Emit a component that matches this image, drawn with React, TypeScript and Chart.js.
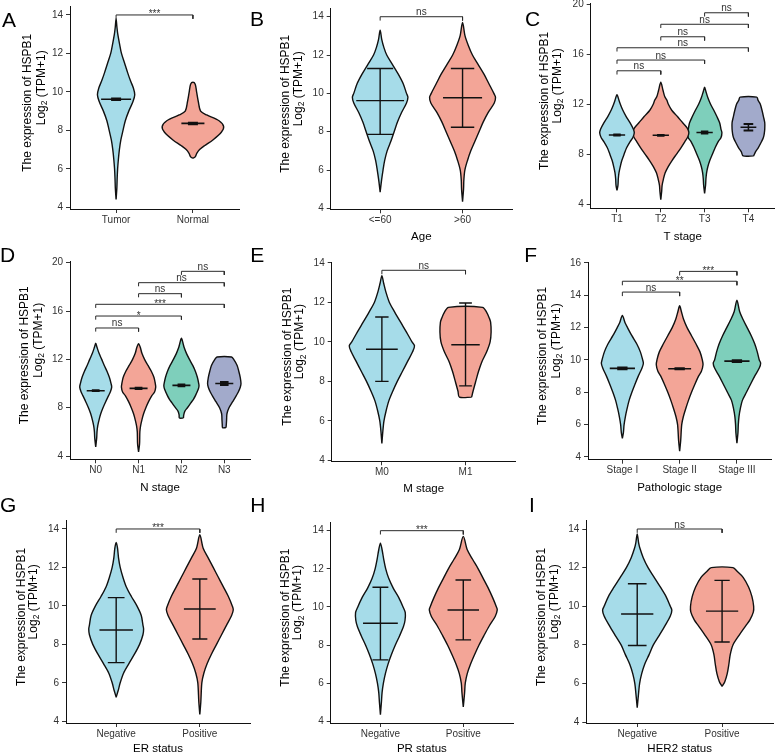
import React, { useEffect, useRef } from 'react';
import { Chart, registerables } from 'chart.js';

Chart.register(...registerables);

type Prof = [number, number][];
type Bracket = [number, number, number, string];

const FONT = "'Liberation Sans', Arial, Helvetica, sans-serif";
const BLUE = '#A6DCE9';
const SALMON = '#F3A597';
const TEAL = '#7ECFBB';
const SLATE = '#A2AACB';

// ================= DATA =================
// A: Tumor vs Normal
const catsA = ['Tumor', 'Normal'];
const ticksA = [4, 6, 8, 10, 12, 14];
const violinA1: Prof = [[4.4,0],[5,0.01],[5.5,0.014],[6,0.02],[6.5,0.03],[7,0.043],[7.5,0.062],[8,0.09],[8.5,0.12],[9,0.165],[9.5,0.22],[9.85,0.243],[10.2,0.225],[10.6,0.185],[11,0.15],[11.5,0.11],[12,0.07],[12.5,0.045],[13,0.022],[13.4,0.01],[13.8,0]];
const violinA2: Prof = [[6.55,0],[6.62,0.03],[6.8,0.05],[7.0,0.087],[7.2,0.15],[7.5,0.26],[7.9,0.37],[8.2,0.4],[8.5,0.34],[8.8,0.18],[9.0,0.1],[9.5,0.07],[10.0,0.048],[10.4,0.03],[10.5,0]];
const meanA = [9.62, 8.36];
const lowA = [9.58, 8.32];
const highA = [9.66, 8.4];
const bracketsA: Bracket[] = [[1, 2, 14.0, '***']];

// B: Age
const catsB = ['<=60', '>60'];
const ticksB = [4, 6, 8, 10, 12, 14];
const violinB1: Prof = [[4.85,0],[5.5,0.018],[6,0.035],[6.5,0.055],[7,0.085],[7.5,0.13],[8,0.17],[8.5,0.21],[9,0.26],[9.5,0.32],[9.8,0.337],[10,0.32],[10.5,0.28],[11,0.22],[11.5,0.15],[12,0.08],[12.4,0.045],[12.8,0.02],[13.3,0]];
const violinB2: Prof = [[4.35,0],[5,0.012],[5.5,0.016],[6,0.028],[6.5,0.06],[7,0.1],[7.5,0.15],[8,0.2],[8.5,0.25],[9,0.31],[9.5,0.385],[9.8,0.4],[10,0.38],[10.5,0.32],[11,0.26],[11.5,0.19],[12,0.12],[12.5,0.07],[13,0.03],[13.7,0]];
const meanB = [9.62, 9.77];
const lowB = [7.86, 8.23];
const highB = [11.3, 11.3];
const bracketsB: Bracket[] = [[1, 2, 14.0, 'ns']];

// C: T stage
const catsC = ['T1', 'T2', 'T3', 'T4'];
const ticksC = [4, 8, 12, 16, 20];
const violinC1: Prof = [[5.1,0],[5.5,0.022],[6,0.03],[6.5,0.045],[7,0.075],[7.5,0.112],[8,0.164],[8.5,0.22],[9,0.3],[9.3,0.36],[9.7,0.395],[10,0.373],[10.5,0.3],[11,0.21],[11.5,0.134],[12,0.075],[12.3,0.045],[12.75,0]];
const violinC2: Prof = [[4.35,0],[5,0.02],[5.5,0.03],[6,0.06],[6.5,0.1],[7,0.17],[7.5,0.26],[8,0.36],[8.5,0.46],[9,0.55],[9.4,0.62],[9.75,0.64],[10.1,0.6],[10.5,0.5],[11,0.38],[11.5,0.25],[12,0.17],[12.3,0.14],[12.6,0.09],[13.1,0.05],[13.75,0]];
const violinC3: Prof = [[4.85,0],[5.5,0.022],[6,0.03],[6.5,0.045],[7,0.075],[7.5,0.12],[8,0.18],[8.5,0.24],[9,0.31],[9.3,0.373],[9.7,0.395],[10,0.373],[10.5,0.343],[11,0.28],[11.5,0.21],[12,0.134],[12.5,0.075],[13,0.03],[13.35,0]];
const violinC4: Prof = [[7.85,0.12],[8.2,0.164],[8.5,0.224],[9,0.3],[9.3,0.34],[9.6,0.36],[10,0.373],[10.5,0.373],[11,0.343],[11.5,0.31],[12,0.27],[12.3,0.22],[12.55,0.19]];
const meanC = [9.52, 9.5, 9.72, 10.14];
const lowC = [9.48, 9.47, 9.64, 9.88];
const highC = [9.56, 9.53, 9.8, 10.4];
const bracketsC: Bracket[] = [[1,2,14.66,'ns'],[1,3,15.52,'ns'],[1,4,16.5,'ns'],[2,3,17.38,'ns'],[2,4,18.38,'ns'],[3,4,19.3,'ns']];

// D: N stage
const catsD = ['N0', 'N1', 'N2', 'N3'];
const ticksD = [4, 8, 12, 16, 20];
const violinD1: Prof = [[4.75,0],[5.5,0.023],[6,0.03],[6.5,0.047],[7,0.078],[7.5,0.117],[8,0.17],[8.5,0.233],[9,0.3],[9.3,0.34],[9.7,0.373],[10,0.358],[10.5,0.32],[11,0.265],[11.5,0.2],[12,0.14],[12.5,0.078],[13,0.03],[13.35,0]];
const violinD2: Prof = [[4.35,0],[5,0.023],[6,0.03],[6.5,0.047],[7,0.078],[7.5,0.117],[8,0.17],[8.5,0.233],[9,0.31],[9.3,0.373],[9.7,0.4],[10,0.39],[10.5,0.36],[11,0.3],[11.5,0.22],[12,0.14],[12.5,0.078],[13,0.04],[13.3,0]];
const violinD3: Prof = [[7.15,0.047],[7.4,0.054],[7.7,0.078],[8,0.14],[8.4,0.22],[8.7,0.28],[9,0.327],[9.5,0.39],[9.8,0.41],[10,0.404],[10.5,0.373],[11,0.327],[11.5,0.264],[12,0.187],[12.5,0.117],[13,0.062],[13.3,0.04],[13.75,0]];
const violinD4: Prof = [[6.35,0.04],[6.6,0.047],[7,0.054],[7.5,0.062],[8,0.11],[8.5,0.195],[9,0.28],[9.3,0.327],[9.7,0.373],[10,0.39],[10.5,0.373],[11,0.34],[11.5,0.3],[12,0.22],[12.2,0.17]];
const meanD = [9.41, 9.6, 9.85, 10.0];
const lowD = [9.38, 9.55, 9.77, 9.88];
const highD = [9.44, 9.65, 9.93, 10.12];
const bracketsD: Bracket[] = [[1,2,14.6,'ns'],[1,3,15.59,'*'],[1,4,16.56,'***'],[2,3,17.44,'ns'],[2,4,18.35,'ns'],[3,4,19.29,'ns']];

// E: M stage
const catsE = ['M0', 'M1'];
const ticksE = [4, 6, 8, 10, 12, 14];
const violinE1: Prof = [[4.85,0],[5.5,0.012],[6,0.025],[6.5,0.05],[7,0.082],[7.5,0.13],[8,0.184],[8.5,0.245],[9,0.306],[9.5,0.367],[9.8,0.39],[10,0.36],[10.5,0.294],[11,0.224],[11.5,0.155],[12,0.09],[12.5,0.05],[13,0.02],[13.35,0]];
const violinE2: Prof = [[7.2,0.073],[7.5,0.09],[8,0.122],[8.5,0.155],[9,0.196],[9.5,0.253],[10,0.294],[10.5,0.306],[11,0.3],[11.2,0.285],[11.5,0.253],[11.75,0.204]];
const meanE = [9.63, 9.86];
const lowE = [8.0, 7.77];
const highE = [11.26, 11.97];
const bracketsE: Bracket[] = [[1, 2, 13.63, 'ns']];

// F: Pathologic stage
const catsF = ['Stage I', 'Stage II', 'Stage III'];
const ticksF = [4, 6, 8, 10, 12, 14, 16];
const violinF1: Prof = [[5.15,0],[5.5,0.018],[6,0.03],[6.5,0.053],[7,0.083],[7.5,0.118],[8,0.166],[8.5,0.22],[9,0.278],[9.5,0.343],[9.8,0.367],[10,0.355],[10.5,0.314],[11,0.25],[11.5,0.166],[12,0.09],[12.3,0.047],[12.75,0]];
const violinF2: Prof = [[4.35,0],[5,0.018],[6,0.036],[6.5,0.065],[7,0.107],[7.5,0.154],[8,0.207],[8.5,0.266],[9,0.33],[9.3,0.38],[9.7,0.408],[10,0.396],[10.5,0.355],[11,0.284],[11.5,0.207],[12,0.13],[12.5,0.07],[13,0.03],[13.35,0]];
const violinF3: Prof = [[4.85,0],[5.5,0.018],[6,0.024],[6.5,0.036],[7,0.06],[7.5,0.095],[8,0.166],[8.5,0.237],[9,0.31],[9.5,0.39],[9.8,0.414],[10,0.39],[10.5,0.355],[11,0.31],[11.5,0.25],[12,0.178],[12.5,0.107],[13,0.047],[13.7,0]];
const meanF = [9.48, 9.46, 9.93];
const lowF = [9.42, 9.43, 9.88];
const highF = [9.54, 9.49, 9.98];
const bracketsF: Bracket[] = [[1,2,14.2,'ns'],[1,3,14.87,'**'],[2,3,15.48,'***']];

// G: ER status
const catsG = ['Negative', 'Positive'];
const ticksG = [4, 6, 8, 10, 12, 14];
const violinG1: Prof = [[5.25,0],[5.6,0.024],[6,0.048],[6.5,0.088],[7,0.152],[7.5,0.22],[8,0.28],[8.5,0.32],[8.8,0.328],[9,0.32],[9.5,0.3],[10,0.248],[10.5,0.18],[11,0.12],[11.5,0.08],[12,0.048],[12.5,0.028],[13,0.016],[13.3,0]];
const violinG2: Prof = [[4.35,0],[5,0.012],[6,0.024],[6.5,0.048],[7,0.088],[7.5,0.14],[8,0.2],[8.5,0.26],[9,0.32],[9.5,0.38],[9.8,0.4],[10,0.388],[10.5,0.34],[11,0.28],[11.5,0.22],[12,0.16],[12.5,0.1],[13,0.04],[13.7,0]];
const meanG = [8.75, 9.84];
const lowG = [7.05, 8.28];
const highG = [10.43, 11.4];
const bracketsG: Bracket[] = [[1, 2, 14.0, '***']];

// H: PR status
const catsH = ['Negative', 'Positive'];
const ticksH = [4, 6, 8, 10, 12, 14];
const violinH1: Prof = [[4.35,0],[5,0.012],[5.5,0.02],[6,0.036],[6.5,0.06],[7,0.092],[7.5,0.133],[8,0.18],[8.5,0.233],[9,0.28],[9.3,0.297],[9.7,0.3],[10,0.273],[10.5,0.22],[11,0.153],[11.5,0.1],[12,0.064],[12.5,0.04],[13,0.02],[13.35,0]];
const violinH2: Prof = [[4.75,0],[5.5,0.016],[6,0.024],[6.5,0.048],[7,0.088],[7.5,0.137],[8,0.19],[8.5,0.25],[9,0.313],[9.5,0.385],[9.85,0.41],[10,0.4],[10.5,0.353],[11,0.3],[11.5,0.24],[12,0.18],[12.5,0.112],[13,0.048],[13.7,0]];
const meanH = [9.14, 9.84];
const lowH = [7.22, 8.27];
const highH = [11.03, 11.41];
const bracketsH: Bracket[] = [[1, 2, 14.0, '***']];

// I: HER2 status
const catsI = ['Negative', 'Positive'];
const ticksI = [4, 6, 8, 10, 12, 14];
const violinI1: Prof = [[4.75,0],[5.5,0.016],[6,0.028],[6.5,0.052],[7,0.088],[7.5,0.14],[8,0.19],[8.5,0.26],[9,0.328],[9.5,0.39],[9.8,0.408],[10,0.39],[10.5,0.34],[11,0.272],[11.5,0.2],[12,0.128],[12.5,0.072],[13,0.032],[13.3,0.016],[13.75,0]];
const violinI2: Prof = [[5.85,0],[6.1,0.032],[6.5,0.06],[7,0.08],[7.5,0.096],[8,0.128],[8.5,0.2],[9,0.28],[9.3,0.328],[9.7,0.368],[10,0.372],[10.5,0.352],[11,0.312],[11.5,0.248],[11.8,0.18],[12,0.128]];
const meanI = [9.6, 9.75];
const lowI = [7.97, 8.15];
const highI = [11.17, 11.34];
const bracketsI: Bracket[] = [[1, 2, 14.0, 'ns']];

// ================= LAYOUT / STYLE =================
interface PanelDef {
  letter: string;
  col: number; row: number;
  cats: string[]; yTicks: number[]; xTitle: string;
  violins: Prof[]; colors: string[];
  mean: number[]; low: number[]; high: number[];
  brackets: Bracket[];
  yMin: number; yMax: number;
  left: number; right: number; top: number; bottom: number; titleY: number;
  meanHalf: number[]; capHalf: number[]; capW: number; meanW: number; barW: number;
  drop: number; t1: number; t2: number;
  lx: number; ly: number;
}

const W = 259, H = 252;

const panels: PanelDef[] = [
  { letter: 'A', col: 0, row: 0, cats: catsA, yTicks: ticksA, xTitle: '', violins: [violinA1, violinA2], colors: [BLUE, SALMON],
    mean: meanA, low: lowA, high: highA, brackets: bracketsA, yMin: 3.91, yMax: 14.44,
    left: 70, right: 239, top: 6.5, bottom: 209, titleY: 237, meanHalf: [0.195, 0.15], capHalf: [0.065, 0.065], capW: 2, meanW: 1.6, barW: 2,
    drop: 0.2, t1: 42, t2: 28.5, lx: 2, ly: 9 },
  { letter: 'B', col: 1, row: 0, cats: catsB, yTicks: ticksB, xTitle: 'Age', violins: [violinB1, violinB2], colors: [BLUE, SALMON],
    mean: meanB, low: lowB, high: highB, brackets: bracketsB, yMin: 3.95, yMax: 14.44,
    left: 71.7, right: 253, top: 8.3, bottom: 209.3, titleY: 237, meanHalf: [0.29, 0.237], capHalf: [0.158, 0.142], capW: 1.4, meanW: 1.4, barW: 1.4,
    drop: 0.2, t1: 45, t2: 32.5, lx: 250, ly: 7.5 },
  { letter: 'C', col: 2, row: 0, cats: catsC, yTicks: ticksC, xTitle: 'T stage', violins: [violinC1, violinC2, violinC3, violinC4], colors: [BLUE, SALMON, TEAL, SLATE],
    mean: meanC, low: lowC, high: highC, brackets: bracketsC, yMin: 3.66, yMax: 20.05,
    left: 72.7, right: 256.7, top: 3.4, bottom: 208.3, titleY: 237.3, meanHalf: [0.186, 0.186, 0.186, 0.18], capHalf: [0.085, 0.085, 0.085, 0.11], capW: 2, meanW: 1.6, barW: 1.5,
    drop: 0.3, t1: 46.5, t2: 33.3, lx: 525, ly: 7.5 },
  { letter: 'D', col: 0, row: 1, cats: catsD, yTicks: ticksD, xTitle: 'N stage', violins: [violinD1, violinD2, violinD3, violinD4], colors: [BLUE, SALMON, TEAL, SLATE],
    mean: meanD, low: lowD, high: highD, brackets: bracketsD, yMin: 3.73, yMax: 20.12,
    left: 70, right: 250, top: 9.3, bottom: 207.3, titleY: 236, meanHalf: [0.21, 0.21, 0.21, 0.21], capHalf: [0.09, 0.09, 0.09, 0.1], capW: 2, meanW: 1.6, barW: 1.5,
    drop: 0.3, t1: 45, t2: 31.7, lx: 0, ly: 243.7 },
  { letter: 'E', col: 1, row: 1, cats: catsE, yTicks: ticksE, xTitle: 'M stage', violins: [violinE1, violinE2], colors: [BLUE, SALMON],
    mean: meanE, low: lowE, high: highE, brackets: bracketsE, yMin: 3.95, yMax: 14.05,
    left: 72.7, right: 256.7, top: 10, bottom: 209.3, titleY: 236.7, meanHalf: [0.19, 0.17], capHalf: [0.08, 0.076], capW: 1.4, meanW: 1.4, barW: 1.4,
    drop: 0.2, t1: 44.3, t2: 32, lx: 250.3, ly: 243.7 },
  { letter: 'F', col: 2, row: 1, cats: catsF, yTicks: ticksF, xTitle: 'Pathologic stage', violins: [violinF1, violinF2, violinF3], colors: [BLUE, SALMON, TEAL],
    mean: meanF, low: lowF, high: highF, brackets: bracketsF, yMin: 3.83, yMax: 16.06,
    left: 70, right: 253.3, top: 10, bottom: 207.7, titleY: 236, meanHalf: [0.22, 0.2, 0.22], capHalf: [0.09, 0.09, 0.09], capW: 2, meanW: 1.6, barW: 1.5,
    drop: 0.25, t1: 45, t2: 31.7, lx: 524.3, ly: 243.7 },
  { letter: 'G', col: 0, row: 2, cats: catsG, yTicks: ticksG, xTitle: 'ER status', violins: [violinG1, violinG2], colors: [BLUE, SALMON],
    mean: meanG, low: lowG, high: highG, brackets: bracketsG, yMin: 3.91, yMax: 14.43,
    left: 66, right: 250, top: 16.7, bottom: 219, titleY: 245, meanHalf: [0.2, 0.19], capHalf: [0.1, 0.09], capW: 1.4, meanW: 1.4, barW: 1.4,
    drop: 0.2, t1: 44.3, t2: 32.7, lx: 0, ly: 494.2 },
  { letter: 'H', col: 1, row: 2, cats: catsH, yTicks: ticksH, xTitle: 'PR status', violins: [violinH1, violinH2], colors: [BLUE, SALMON],
    mean: meanH, low: lowH, high: highH, brackets: bracketsH, yMin: 3.91, yMax: 14.44,
    left: 71.7, right: 254, top: 18.3, bottom: 219, titleY: 245, meanHalf: [0.21, 0.19], capHalf: [0.096, 0.094], capW: 1.4, meanW: 1.4, barW: 1.4,
    drop: 0.2, t1: 45, t2: 32.7, lx: 250.3, ly: 494.2 },
  { letter: 'I', col: 2, row: 2, cats: catsI, yTicks: ticksI, xTitle: 'HER2 status', violins: [violinI1, violinI2], colors: [BLUE, SALMON],
    mean: meanI, low: lowI, high: highI, brackets: bracketsI, yMin: 3.96, yMax: 14.43,
    left: 68.3, right: 255, top: 16.7, bottom: 219, titleY: 245, meanHalf: [0.19, 0.19], capHalf: [0.11, 0.09], capW: 1.4, meanW: 1.4, barW: 1.4,
    drop: 0.2, t1: 45, t2: 31.7, lx: 529, ly: 494.2 },
];

// ================= BUILDERS =================
function outline(c: number, prof: Prof) {
  const pts: { x: number; y: number }[] = [];
  prof.forEach(([y, w]) => pts.push({ x: c + w, y }));
  for (let i = prof.length - 1; i >= 0; i--) {
    const [y, w] = prof[i];
    if (w === 0) continue;
    pts.push({ x: c - w, y });
  }
  if (prof[0][1] === 0) pts.push({ x: c, y: prof[0][0] });
  else pts.push({ ...pts[0] });
  return pts;
}

function buildDatasets(p: PanelDef) {
  const ds: any[] = [];
  const line = (data: any[], width: number, color: string, order: number) =>
    ds.push({ data, showLine: true, fill: false, borderColor: color, borderWidth: width, pointRadius: 0, pointHoverRadius: 0, tension: 0, order });
  p.violins.forEach((prof, i) => {
    ds.push({
      data: outline(i + 1, prof), showLine: true, fill: 'shape', backgroundColor: p.colors[i],
      borderColor: '#111', borderWidth: 1.4, pointRadius: 0, pointHoverRadius: 0, tension: 0.3, order: 5,
    });
  });
  p.mean.forEach((m, i) => {
    const c = i + 1, lo = p.low[i], hi = p.high[i], mh = p.meanHalf[i], ch = p.capHalf[i];
    line([{ x: c, y: lo }, { x: c, y: hi }], p.barW, '#111', 2);
    line([{ x: c - ch, y: lo }, { x: c + ch, y: lo }], p.capW, '#111', 2);
    line([{ x: c - ch, y: hi }, { x: c + ch, y: hi }], p.capW, '#111', 2);
    line([{ x: c - mh, y: m }, { x: c + mh, y: m }], p.meanW, '#111', 2);
  });
  p.brackets.forEach(([a, b, v]) => {
    line([{ x: a, y: v - p.drop }, { x: a, y: v }, { x: b, y: v }, { x: b, y: v - p.drop }], 1, '#2a2a2a', 1);
  });
  return ds;
}

function decorPlugin(p: PanelDef) {
  return {
    id: 'decor' + p.letter,
    afterDatasetsDraw(chart: any) {
      const { ctx, scales } = chart;
      const xs = scales.x, ys = scales.y;
      ctx.save();
      ctx.fillStyle = '#333';
      ctx.font = `10px ${FONT}`;
      ctx.textAlign = 'center';
      ctx.textBaseline = 'alphabetic';
      p.brackets.forEach(([a, b, v, lab]) => {
        const px = xs.getPixelForValue((a + b) / 2);
        const py = ys.getPixelForValue(v);
        ctx.fillText(lab, px, lab.startsWith('*') ? py + 2.5 : py - 1.5);
      });
      ctx.restore();
    },
    afterDraw(chart: any) {
      const { ctx, chartArea: ca } = chart;
      const cy = (ca.top + ca.bottom) / 2;
      const big = `12px ${FONT}`;
      const small = `8.5px ${FONT}`;
      ctx.save();
      ctx.fillStyle = '#000';
      ctx.textBaseline = 'middle';
      ctx.textAlign = 'center';
      ctx.font = big;
      ctx.translate(ca.left - p.t1, cy - 5);
      ctx.rotate(-Math.PI / 2);
      ctx.fillText('The expression of HSPB1', 0, 0);
      ctx.restore();

      ctx.save();
      ctx.fillStyle = '#000';
      ctx.textBaseline = 'middle';
      ctx.textAlign = 'left';
      ctx.translate(ca.left - p.t2, cy - 20);
      ctx.rotate(-Math.PI / 2);
      ctx.font = big;
      const w1 = ctx.measureText('Log').width;
      const w3 = ctx.measureText(' (TPM+1)').width;
      ctx.font = small;
      const w2 = ctx.measureText('2').width;
      const x0 = -(w1 + w2 + w3) / 2;
      ctx.font = big;
      ctx.fillText('Log', x0, 0);
      ctx.font = small;
      ctx.fillText('2', x0 + w1, 3.5);
      ctx.font = big;
      ctx.fillText(' (TPM+1)', x0 + w1 + w2, 0);
      ctx.restore();
    },
  };
}

function makeConfig(p: PanelDef): any {
  const n = p.cats.length;
  const xTicks = p.cats.map((_, i) => i + 1);
  const titleLH = 11.5 * 1.2;
  return {
    type: 'scatter',
    data: { datasets: buildDatasets(p) },
    plugins: [decorPlugin(p)],
    options: {
      animation: false,
      responsive: false,
      events: [],
      layout: { autoPadding: false, padding: { left: 0, top: p.top, right: W - p.right, bottom: 0 } },
      plugins: { legend: { display: false }, tooltip: { enabled: false }, title: { display: false } },
      scales: {
        x: {
          type: 'linear', min: 0.4, max: n + 0.6,
          afterBuildTicks: (s: any) => { s.ticks = xTicks.map((v) => ({ value: v })); },
          afterFit: (s: any) => { s.height = H - p.bottom; s.paddingLeft = 0; s.paddingRight = 0; },
          ticks: { callback: (v: number) => p.cats[Math.round(v) - 1] ?? '', color: '#333', font: { size: 10, family: FONT }, padding: 1, maxRotation: 0, autoSkip: false },
          grid: { display: true, drawOnChartArea: false, drawTicks: true, tickLength: 4, tickColor: '#333', color: '#333' },
          border: { display: true, color: '#111', width: 1 },
          title: { display: !!p.xTitle, text: p.xTitle, color: '#000', font: { size: 11.5, family: FONT, lineHeight: 1.2 },
            padding: { top: 0, bottom: Math.max(0, H - titleLH / 2 - p.titleY) } },
        },
        y: {
          type: 'linear', min: p.yMin, max: p.yMax,
          afterBuildTicks: (s: any) => { s.ticks = p.yTicks.map((v) => ({ value: v })); },
          afterFit: (s: any) => { s.width = p.left; s.paddingTop = 0; s.paddingBottom = 0; },
          ticks: { callback: (v: number) => String(v), color: '#333', font: { size: 10, family: FONT }, padding: 3 },
          grid: { display: true, drawOnChartArea: false, drawTicks: true, tickLength: 4, tickColor: '#333', color: '#333' },
          border: { display: true, color: '#111', width: 1 },
        },
      },
    },
  };
}

function Panel({ p }: { p: PanelDef }) {
  const ref = useRef<HTMLCanvasElement>(null);
  useEffect(() => {
    if (!ref.current) return;
    const chart = new Chart(ref.current, makeConfig(p));
    return () => chart.destroy();
  }, [p]);
  return (
    <canvas
      ref={ref}
      width={W}
      height={H}
      style={{ position: 'absolute', left: p.col * W, top: p.row * H, width: W, height: H }}
    />
  );
}

export default function App() {
  return (
    <div style={{ position: 'absolute', left: 0, top: 0, width: 777, height: 756, background: '#fff', overflow: 'hidden' }}>
      {panels.map((p) => (
        <Panel key={p.letter} p={p} />
      ))}
      {panels.map((p) => (
        <div
          key={'L' + p.letter}
          style={{ position: 'absolute', left: p.lx, top: p.ly, fontFamily: FONT, fontSize: 21, lineHeight: '21px', color: '#000' }}
        >
          {p.letter}
        </div>
      ))}
    </div>
  );
}
